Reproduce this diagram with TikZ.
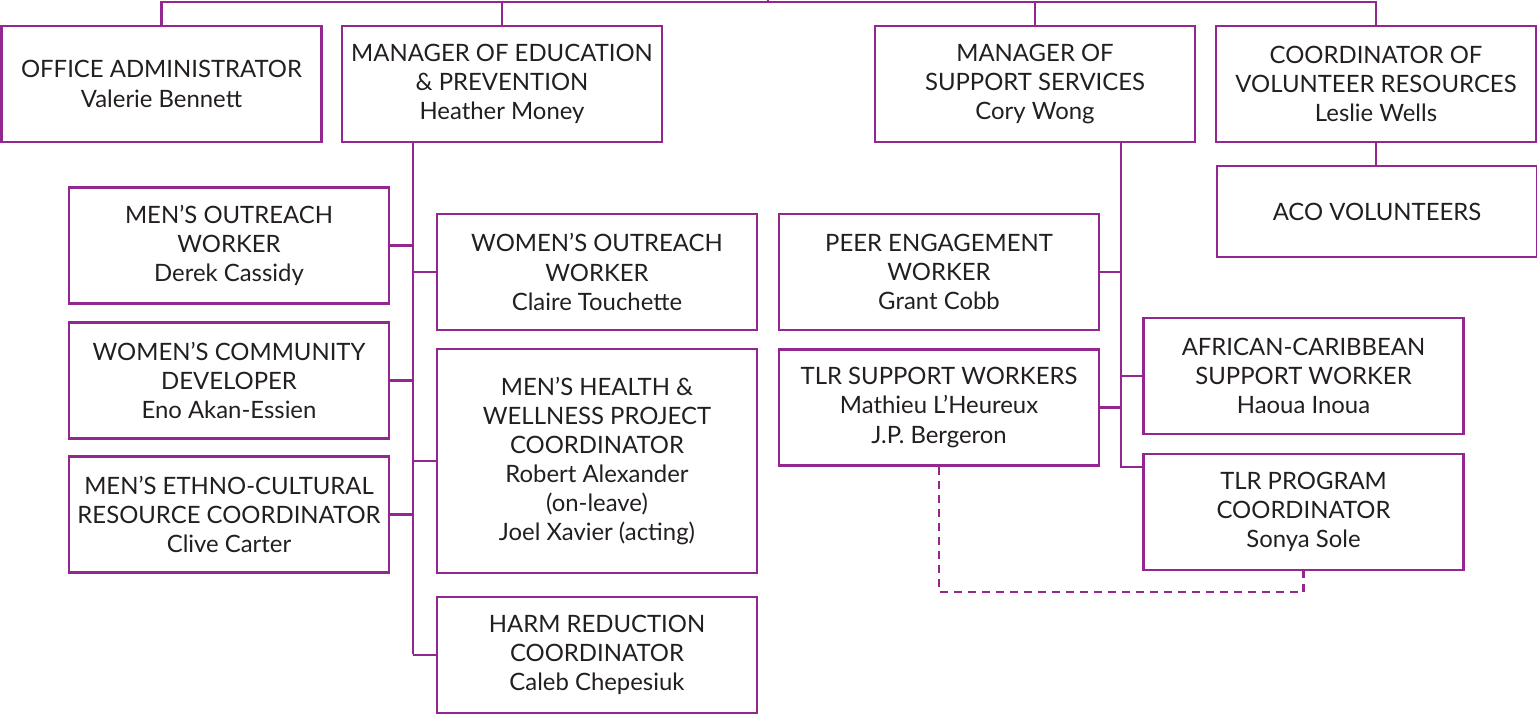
\documentclass[tikz,border=0pt]{standalone}
\usepackage{fontspec}
\setmainfont{Lato}
\definecolor{orgpurple}{HTML}{93278F}
\definecolor{orgtext}{HTML}{231F20}
\tikzset{
	orgbox/.style = {draw = orgpurple, line width = 1.6pt, fill = white,
		minimum width = 6.4cm, minimum height = 2.32cm, inner sep = 0pt,
		align = center, text = orgtext, font = \fontsize{13.6}{16.6}\selectfont},
	orgline/.style = {draw = orgpurple, line width = 1.6pt},
	dashline/.style = {orgline, dash pattern = on 0.16cm off 0.12cm}
}
\begin{document}
\begin{tikzpicture}[x=0.02cm, y=-0.02cm]
	\useasboundingbox (0,0) rectangle (1537,718);
	% managers
	\node (OA)  at ( 161.5,  84)	[orgbox]	{OFFICE ADMINISTRATOR\\Valerie Bennett};
	\node (MEP) at ( 502,    84)	[orgbox]	{MANAGER OF EDUCATION\\\& PREVENTION\\Heather Money};
	\node (MSS) at (1035,    84)	[orgbox]	{MANAGER OF\\SUPPORT SERVICES\\Cory Wong};
	\node (CVR) at (1376,    84)	[orgbox]	{COORDINATOR OF\\VOLUNTEER RESOURCES\\Leslie Wells};
	\node (ACO) at (1377,  211.5)	[orgbox, minimum height = 1.82cm]	{ACO VOLUNTEERS};
	% education and prevention
	\node (MOW) at ( 229,  245.5)	[orgbox]	{MEN’S OUTREACH\\WORKER\\Derek Cassidy};
	\node (WCD) at ( 229,  380.5)	[orgbox]	{WOMEN’S COMMUNITY\\DEVELOPER\\Eno Akan-Essien};
	\node (MEC) at ( 229,  514.5)	[orgbox]	{MEN’S ETHNO-CULTURAL\\RESOURCE COORDINATOR\\Clive Carter};
	\node (WOW) at ( 597,   272)	[orgbox]	{WOMEN’S OUTREACH\\WORKER\\Claire Touchette};
	\node (MHW) at ( 597,   461)	[orgbox, minimum height = 4.48cm]	{MEN’S HEALTH \&\\WELLNESS PROJECT\\COORDINATOR\\Robert Alexander\\(on-leave)\\Joel Xavier (acting)};
	\node (HRC) at ( 597,   655)	[orgbox]	{HARM REDUCTION\\COORDINATOR\\Caleb Chepesiuk};
	% support services
	\node (PEW) at ( 939,   272)	[orgbox]	{PEER ENGAGEMENT\\WORKER\\Grant Cobb};
	\node (TSW) at ( 939,  407.5)	[orgbox]	{TLR SUPPORT WORKERS\\Mathieu L’Heureux\\J.P. Bergeron};
	\node (ACS) at (1303.5, 376)	[orgbox]	{AFRICAN-CARIBBEAN\\SUPPORT WORKER\\Haoua Inoua};
	\node (TPC) at (1303.5, 512)	[orgbox]	{TLR PROGRAM\\COORDINATOR\\Sonya Sole};
	% top bus
	\coordinate (bus)  at (768,   2);
	\coordinate (root) at (768, -10);
	\draw [orgline] (root) -- (bus);
	\draw [orgline] (OA.north) |- (bus) -| (CVR.north);
	\draw [orgline] (MEP.north) -- (MEP.north |- bus);
	\draw [orgline] (MSS.north) -- (MSS.north |- bus);
	\draw [orgline] (CVR.south) -- (CVR.south |- ACO.north);
	% education spine
	\coordinate (espine) at (413, 654);
	\draw [orgline] (MEP.south -| espine) -- (espine);
	\draw [orgline] (MOW.east) -- (MOW.east -| espine);
	\draw [orgline] (WCD.east) -- (WCD.east -| espine);
	\draw [orgline] (MEC.east) -- (MEC.east -| espine);
	\draw [orgline] (WOW.west) -- (WOW.west -| espine);
	\draw [orgline] (MHW.west) -- (MHW.west -| espine);
	\draw [orgline] (HRC.west) -- (HRC.west -| espine);
	% support spine
	\coordinate (sspine) at (1121, 467);
	\draw [orgline] (MSS.south -| sspine) -- (sspine) -- (sspine -| TPC.west);
	\draw [orgline] (PEW.east) -- (PEW.east -| sspine);
	\draw [orgline] (TSW.east) -- (TSW.east -| sspine);
	\draw [orgline] (ACS.west) -- (ACS.west -| sspine);
	% dotted link
	\coordinate (dlink) at (940, 592);
	\draw [dashline] (TSW.south) |- (dlink) -| (TPC.south);
\end{tikzpicture}
\end{document}
